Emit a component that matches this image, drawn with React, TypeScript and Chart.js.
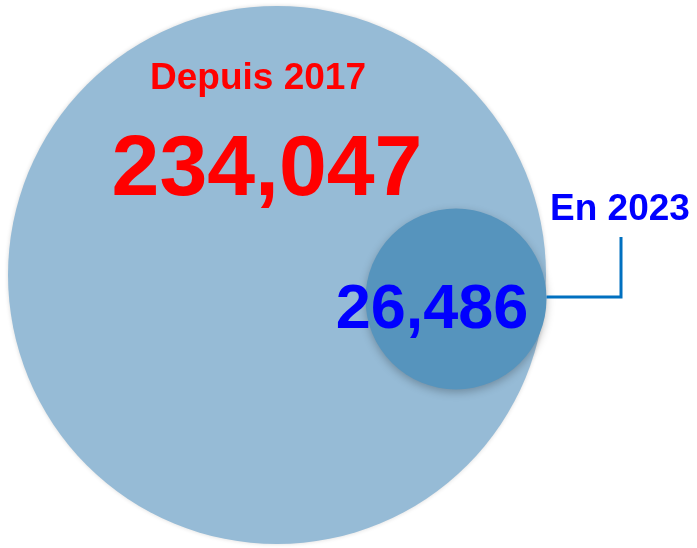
import React, { useEffect, useRef } from "react";
import { Chart, registerables } from "chart.js";

Chart.register(...registerables);

const labels = ["Depuis 2017", "En 2023"];
const values = [234047, 26486];
const centersX = [277, 456];
const centersY = [275, 299];
const colors = ["#96BBD6", "#5694BD"];
const textColors = ["#FF0000", "#0000FF"];

const fmt = (v: number) => v.toLocaleString("en-US");

const labelsPlugin = {
  id: "bubbleLabels",
  beforeDatasetDraw(chart: any, args: any) {
    const ctx = chart.ctx;
    ctx.save();
    if (args.index === 1) {
      ctx.shadowColor = "rgba(0,0,0,0.25)";
      ctx.shadowBlur = 8;
      ctx.shadowOffsetY = 3;
    } else {
      ctx.shadowColor = "rgba(0,0,0,0.15)";
      ctx.shadowBlur = 4;
    }
  },
  afterDatasetDraw(chart: any) {
    chart.ctx.restore();
  },
  afterDraw(chart: any) {
    const ctx = chart.ctx;
    const small = chart.getDatasetMeta(1).data[0];
    const rs = small.options.radius;
    ctx.save();
    // connector
    ctx.strokeStyle = "#0070C0";
    ctx.lineWidth = 3;
    ctx.beginPath();
    ctx.moveTo(small.x + rs, small.y - 2);
    ctx.lineTo(621, small.y - 2);
    ctx.lineTo(621, 237);
    ctx.stroke();

    ctx.textAlign = "center";
    ctx.textBaseline = "alphabetic";
    ctx.fillStyle = textColors[0];
    ctx.font = "bold 37px 'Liberation Sans', Arial, sans-serif";
    ctx.fillText(labels[0], 258, 89);
    ctx.font = "bold 86px 'Liberation Sans', Arial, sans-serif";
    ctx.fillText(fmt(values[0]), 267, 195);

    ctx.fillStyle = textColors[1];
    ctx.font = "bold 63px 'Liberation Sans', Arial, sans-serif";
    ctx.fillText(fmt(values[1]), 432, 328);
    ctx.font = "bold 37px 'Liberation Sans', Arial, sans-serif";
    ctx.fillText(labels[1], 620, 220);
    ctx.restore();
  },
};

export default function App() {
  const ref = useRef<HTMLCanvasElement | null>(null);
  useEffect(() => {
    if (!ref.current) return;
    const maxV = Math.max(...values);
    const chart = new Chart(ref.current, {
      type: "bubble",
      data: {
        datasets: values.map((v, i) => ({
          label: labels[i],
          data: [{ x: centersX[i], y: centersY[i], r: 269 * Math.sqrt(v / maxV) }],
          backgroundColor: colors[i],
          borderWidth: 0,
          hoverBorderWidth: 0,
          clip: false,
          order: values.length - i,
        })),
      },
      options: {
        responsive: false,
        animation: false,
        events: [],
        layout: { padding: 0, autoPadding: false },
        scales: {
          x: { type: "linear", min: 0, max: 697, display: false },
          y: { type: "linear", min: 0, max: 548, reverse: true, display: false },
        },
        plugins: { legend: { display: false }, tooltip: { enabled: false } },
      },
      plugins: [labelsPlugin],
    });
    return () => chart.destroy();
  }, []);
  return (
    <div style={{ position: "fixed", left: 0, top: 0, width: 697, height: 548, background: "#fff" }}>
      <canvas ref={ref} width={697} height={548} style={{ width: 697, height: 548, display: "block" }} />
    </div>
  );
}
